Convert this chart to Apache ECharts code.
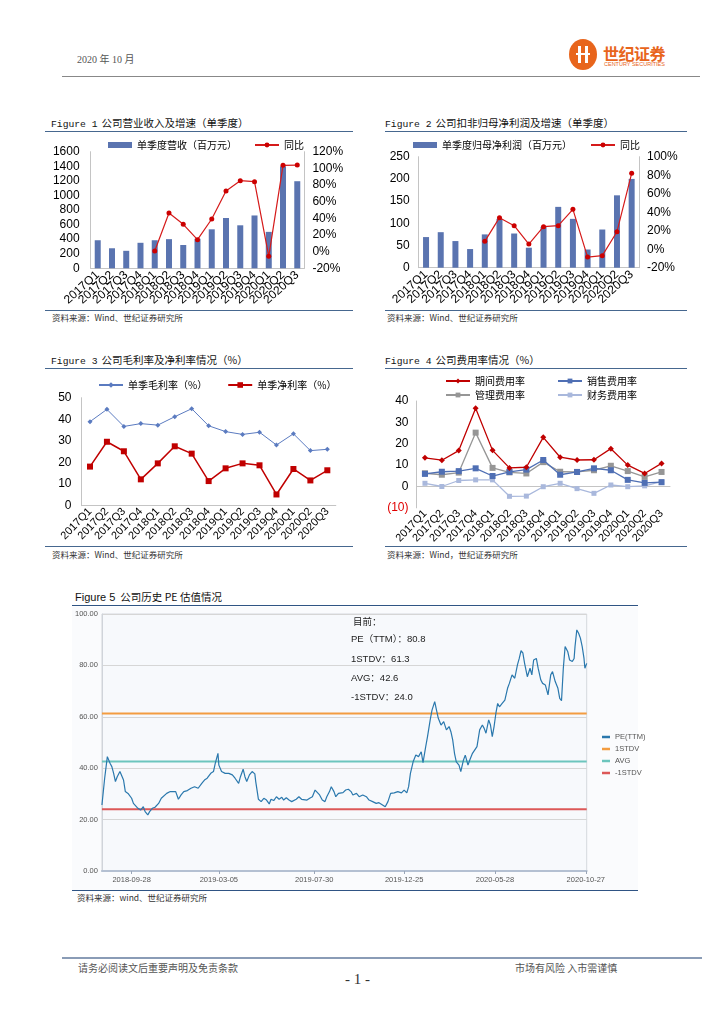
<!DOCTYPE html>
<html><head><meta charset="utf-8">
<script src="https://cdn.jsdelivr.net/npm/echarts@6/dist/echarts.min.js"></script>
<style>
body{margin:0;width:724px;height:1024px;background:#fff;position:relative;font-family:"Noto Sans CJK SC",sans-serif;overflow:hidden}
.hline{position:absolute;height:0;border-top:1.5px solid #46678f}
.ftitle{position:absolute;font-size:10.5px;color:#111;white-space:nowrap;line-height:12px}
.ftitle .fig{font-family:"Liberation Mono","DejaVu Sans Mono",monospace;font-size:9.7px;margin-right:4px}
.src{position:absolute;font-size:8.5px;color:#333;white-space:nowrap;line-height:10px}
.chart{position:absolute}
.t{position:absolute;white-space:nowrap}
</style></head><body>

<!-- header -->
<div class="t" style="left:77px;top:51px;font-size:10px;color:#555;font-family:'Liberation Serif','Noto Sans CJK SC',serif">2020 年 10 月</div>
<div class="t" style="left:569px;top:39px;width:28px;height:31px;border-radius:50%;background:#e8651c"></div>
<div class="t" style="left:578px;top:46px;width:3px;height:17px;background:#fff"></div>
<div class="t" style="left:585px;top:46px;width:3px;height:17px;background:#fff"></div>
<div class="t" style="left:576px;top:53px;width:14px;height:2px;background:#fff"></div>
<div class="t" style="left:603px;top:41px;font-size:16px;font-weight:bold;color:#e8651c;letter-spacing:-0.5px">世纪证券</div>
<div class="t" style="left:604px;top:61px;font-size:5.5px;color:#e8651c;font-family:'Liberation Sans',sans-serif">CENTURY SECURITIES</div>
<div class="t" style="left:62px;top:76px;width:638px;border-top:1px solid #888"></div>

<!-- Figure 1 -->
<div class="ftitle" style="left:51px;top:117px"><span class="fig">Figure 1</span>公司营业收入及增速（单季度）</div>
<div class="hline" style="left:45px;top:131px;width:308px"></div>
<div id="c1" class="chart" style="left:40px;top:132px;width:320px;height:178px"></div>
<div class="hline" style="left:45px;top:310px;width:308px"></div>
<div class="src" style="left:52px;top:312px">资料来源：Wind、世纪证券研究所</div>

<!-- Figure 2 -->
<div class="ftitle" style="left:385px;top:117px"><span class="fig">Figure 2</span>公司扣非归母净利润及增速（单季度）</div>
<div class="hline" style="left:385px;top:131px;width:302px"></div>
<div id="c2" class="chart" style="left:380px;top:132px;width:320px;height:178px"></div>
<div class="hline" style="left:385px;top:310px;width:302px"></div>
<div class="src" style="left:387px;top:312px">资料来源：Wind、世纪证券研究所</div>

<!-- Figure 3 -->
<div class="ftitle" style="left:51px;top:354px"><span class="fig">Figure 3</span>公司毛利率及净利率情况（%）</div>
<div class="hline" style="left:45px;top:368px;width:308px"></div>
<div id="c3" class="chart" style="left:40px;top:369px;width:320px;height:177px"></div>
<div class="hline" style="left:45px;top:546px;width:308px"></div>
<div class="src" style="left:52px;top:549px">资料来源：Wind、世纪证券研究所</div>

<!-- Figure 4 -->
<div class="ftitle" style="left:385px;top:354px"><span class="fig">Figure 4</span>公司费用率情况（%）</div>
<div class="hline" style="left:385px;top:368px;width:302px"></div>
<div id="c4" class="chart" style="left:380px;top:369px;width:320px;height:177px"></div>
<div class="hline" style="left:385px;top:546px;width:302px"></div>
<div class="src" style="left:387px;top:549px">资料来源：Wind，世纪证券研究所</div>

<!-- Figure 5 -->
<div class="ftitle" style="left:75px;top:591px"><span style="font-family:'Liberation Sans',sans-serif;font-size:11px;margin-right:5px">Figure 5</span>公司历史 PE 估值情况</div>
<div class="hline" style="left:72px;top:605px;width:566px;border-top:1.5px solid #2f5484"></div>
<div class="t" style="left:72px;top:607px;width:566px;height:283px;background:#fafbfd"></div>
<div id="c5" class="chart" style="left:72px;top:607px;width:590px;height:283px"></div>
<div class="hline" style="left:72px;top:890px;width:566px;border-top:1.5px solid #2f5484"></div>
<div class="src" style="left:77px;top:892px">资料来源：wind、世纪证券研究所</div>

<!-- footer -->
<div class="t" style="left:62px;top:957px;width:640px;border-top:2px solid #8a9cb6"></div>
<div class="t" style="left:78px;top:960px;font-size:10px;color:#555">请务必阅读文后重要声明及免责条款</div>
<div class="t" style="left:515px;top:960px;font-size:10px;color:#555">市场有风险 入市需谨慎</div>
<div class="t" style="left:345px;top:971px;font-size:15px;color:#333;font-family:'Liberation Serif',serif">- 1 -</div>

<script>
// ---------- data ----------
const quarters = ['2017Q1','2017Q2','2017Q3','2017Q4','2018Q1','2018Q2','2018Q3','2018Q4','2019Q1','2019Q2','2019Q3','2019Q4','2020Q1','2020Q2','2020Q3'];
// Figure 1
const revenue = [385,275,240,350,385,400,320,405,535,690,590,725,500,1400,1195];
const revenueYoY = [null,null,null,null,0.8,46.4,32.8,14.4,39.2,72.8,85.2,84.0,-5.6,103.6,104.0];
// Figure 2
const profit = [69,80,60,42,75,110,77,45,92,137,110,41,86,163,200];
const profitYoY = [null,null,null,null,8.5,34.1,25.4,5.6,24.3,25.4,43.1,-8.5,-7.0,18.9,82.0];
// Figure 3
const grossMargin = [38.9,44.6,36.7,38.0,37.3,41.2,44.9,37.0,34.3,33.0,34.0,28.1,33.3,25.5,26.1];
const netMargin = [18.1,29.6,25.2,12.2,19.6,27.5,24.1,11.4,17.3,19.6,18.7,5.2,17.0,11.7,16.4];
// Figure 4
const periodExp = [13.4,12.3,16.8,36.6,16.9,8.7,9.0,23.0,13.7,12.4,12.5,17.7,10.0,6.1,10.8];
const salesExp = [5.9,6.9,7.2,8.5,4.9,6.8,7.9,12.4,5.5,6.8,8.5,7.6,3.1,1.7,2.0];
const adminExp = [6.2,5.5,6.5,25.2,8.7,6.6,6.1,11.4,6.9,6.8,7.6,9.7,7.2,4.5,6.8];
const finExp = [1.5,0.0,2.8,3.1,3.1,-4.6,-4.5,-0.1,1.5,-1.0,-3.2,0.7,-0.1,0.3,2.3];
// Figure 5 (trading-day index, PE TTM)
const peDays = [0,3,6,9,11,13,15,17,20,22,24,26,29,33,35,37,40,43,46,48,51,53,56,59,63,66,68,72,76,78,82,85,88,91,95,99,103,107,111,114,117,121,124,126,129,130,133,137,141,145,148,152,154,157,159,161,164,167,170,171,173,174,177,180,183,186,188,191,194,197,200,202,205,208,211,213,216,219,222,224,228,231,234,237,239,242,245,248,250,253,255,258,260,263,265,268,271,274,277,279,283,286,290,294,297,301,305,308,312,315,318,321,325,329,333,336,339,341,343,346,349,352,355,357,360,362,365,367,370,372,374,377,380,383,386,388,390,392,394,397,399,402,404,407,409,412,414,417,420,423,425,427,430,432,434,436,438,440,442,445,448,451,453,456,459,462,464,466,468,470,473,476,478,480,483,485,488,490,493,496,499,501,504,507,509,511,513,515,518,520,523,525,526,528,530,532,534,536,537,539];
const peValues = [25.7,36.0,44.5,41.9,40.6,38.0,34.8,36.7,38.7,39.0,35.4,30.9,30.2,28.3,26.3,25.7,24.4,23.7,25.0,23.1,21.8,23.1,24.4,24.8,26.3,28.3,27.6,30.2,30.9,31.5,30.9,27.9,29.6,30.9,31.3,32.2,32.8,32.2,34.1,35.4,36.1,38.0,38.7,41.9,45.8,41.2,38.7,38.0,38.0,37.4,36.1,34.1,36.7,39.6,36.7,34.8,37.4,38.7,37.8,34.8,30.2,27.9,27.0,28.3,27.6,26.1,27.9,27.4,28.9,27.9,28.7,27.6,28.5,27.6,27.0,26.6,27.9,28.9,27.9,28.3,27.6,28.3,28.9,31.5,31.3,29.6,27.6,27.0,28.9,30.9,32.8,30.9,28.9,30.2,30.9,30.5,31.5,31.8,30.9,29.6,30.2,28.9,29.6,28.9,27.6,27.0,26.3,26.6,25.7,25.0,27.0,30.2,30.4,30.9,30.4,31.5,30.4,32.8,38.0,42.5,45.1,44.5,46.4,42.2,48.4,52.3,58.8,62.6,65.9,62.6,59.4,56.8,58.1,54.9,56.2,54.2,51.0,45.8,42.5,41.2,38.7,43.2,45.1,41.2,43.2,45.8,46.4,48.4,54.9,56.8,55.5,53.6,58.8,56.8,52.3,56.2,61.3,65.2,63.9,65.2,66.5,71.1,73.0,76.3,75.0,80.2,82.7,85.7,84.9,80.7,75.6,78.9,76.3,82.1,82.7,78.9,74.3,73.0,72.4,68.5,76.3,77.6,73.7,71.1,67.2,66.3,78.9,87.3,85.3,82.1,81.5,82.7,87.3,93.8,92.5,90.6,87.3,82.7,78.9,80.8];
const peTickDays = [33,130,236,336,437,538];
const peTickLabels = ['2018-09-28','2019-03-05','2019-07-30','2019-12-25','2020-05-28','2020-10-27'];
const statNames = ['PE（TTM）','1STDV','AVG','-1STDV'];
const statValues = [80.8, 61.3, 42.6, 24.0];
const peLegend = ['PE(TTM)','1STDV','AVG','-1STDV'];

// ---------- styles ----------
const LAT = 'Liberation Sans, Arial, sans-serif';
const CJK = 'Noto Sans CJK SC, sans-serif';
const axisGray = '#c4c4c4';
function catAxis(rot, fs, margin){
  return {type:'category', data:quarters,
    axisLine:{lineStyle:{color:axisGray}}, axisTick:{lineStyle:{color:axisGray}},
    axisLabel:{rotate:rot, fontSize:fs, color:'#000', interval:0, margin:margin, fontFamily:LAT}};
}
function valAxis(min,max,interval,pos,margin,fmt){
  return {type:'value', min:min, max:max, interval:interval, position:pos,
    axisLine:{show:true, lineStyle:{color:axisGray}}, axisTick:{show:false}, splitLine:{show:false},
    axisLabel:{fontSize:12, color:'#000', margin:margin, fontFamily:LAT, formatter:fmt || (v => String(v))}};
}
const legendText = {fontSize:10, color:'#000', fontFamily:CJK};

// ---------- Figure 1 ----------
echarts.init(document.getElementById('c1')).setOption({
  animation:false,
  legend:{left:63, top:3, itemWidth:24, itemHeight:6, itemGap:17, textStyle:legendText,
    data:[{name:'单季度营收（百万元）', icon:'rect'}, {name:'同比'}]},
  grid:{left:50.6, right:55.6, top:19.7, bottom:41.7},
  xAxis:catAxis(42,12,5),
  yAxis:[valAxis(0,1600,200,'left',11), valAxis(-20,120,20,'right',8, v => v + '%')],
  series:[
    {name:'单季度营收（百万元）', type:'bar', data:revenue, barWidth:6, itemStyle:{color:'#5a74b0'}},
    {name:'同比', type:'line', yAxisIndex:1, data:revenueYoY, symbol:'circle', symbolSize:5,
      itemStyle:{color:'#cc0000'}, lineStyle:{color:'#d51a1a', width:1.2}}
  ]
});

// ---------- Figure 2 ----------
echarts.init(document.getElementById('c2')).setOption({
  animation:false,
  legend:{left:28, top:3, itemWidth:24, itemHeight:6, itemGap:18, textStyle:legendText,
    data:[{name:'单季度归母净利润（百万元）', icon:'rect'}, {name:'同比'}]},
  grid:{left:38.7, right:61, top:24.7, bottom:42.3},
  xAxis:catAxis(42,12,5),
  yAxis:[valAxis(0,250,50,'left',9), valAxis(-20,100,20,'right',8, v => v + '%')],
  series:[
    {name:'单季度归母净利润（百万元）', type:'bar', data:profit, barWidth:6, itemStyle:{color:'#5a74b0'}},
    {name:'同比', type:'line', yAxisIndex:1, data:profitYoY, symbol:'circle', symbolSize:5,
      itemStyle:{color:'#cc0000'}, lineStyle:{color:'#d51a1a', width:1.2}}
  ]
});

// ---------- Figure 3 ----------
echarts.init(document.getElementById('c3')).setOption({
  animation:false,
  legend:{left:53, top:6, itemWidth:24, itemHeight:7, itemGap:20, textStyle:legendText,
    data:['单季毛利率（%）','单季净利率（%）']},
  grid:{left:41.5, right:24.2, top:28.7, bottom:40.3},
  xAxis:catAxis(46,11,4),
  yAxis:valAxis(0,50,10,'left',10),
  series:[
    {name:'单季毛利率（%）', type:'line', data:grossMargin, symbol:'diamond', symbolSize:5,
      itemStyle:{color:'#5b7bc0'}, lineStyle:{color:'#5b7bc0', width:1}},
    {name:'单季净利率（%）', type:'line', data:netMargin, symbol:'rect', symbolSize:6,
      itemStyle:{color:'#c00000'}, lineStyle:{color:'#c00000', width:1.5}}
  ]
});

// ---------- Figure 4 ----------
const y4 = valAxis(-10,40,10,'left',8, v => v < 0 ? '{neg|(' + Math.abs(v) + ')}' : String(v));
y4.axisLabel.rich = {neg:{color:'#e00000', fontSize:12, fontFamily:LAT}};
echarts.init(document.getElementById('c4')).setOption({
  animation:false,
  legend:[
    {left:60, top:2, itemWidth:24, itemHeight:6, itemGap:32, textStyle:legendText, data:['期间费用率','销售费用率']},
    {left:60, top:16, itemWidth:24, itemHeight:6, itemGap:32, textStyle:legendText, data:['管理费用率','财务费用率']}
  ],
  grid:{left:36.5, right:30, top:32, bottom:26.7},
  xAxis:catAxis(46,11,4),
  yAxis:y4,
  series:[
    {name:'期间费用率', type:'line', data:periodExp, symbol:'diamond', symbolSize:6,
      itemStyle:{color:'#c00000'}, lineStyle:{color:'#c00000', width:1.3}, z:5},
    {name:'销售费用率', type:'line', data:salesExp, symbol:'rect', symbolSize:6,
      itemStyle:{color:'#4f6fb4'}, lineStyle:{color:'#4f6fb4', width:1.3}, z:4},
    {name:'管理费用率', type:'line', data:adminExp, symbol:'rect', symbolSize:6,
      itemStyle:{color:'#969696'}, lineStyle:{color:'#969696', width:1.3}, z:3},
    {name:'财务费用率', type:'line', data:finExp, symbol:'rect', symbolSize:5,
      itemStyle:{color:'#a9b8dc'}, lineStyle:{color:'#a9b8dc', width:1.3}, z:2}
  ]
});

// ---------- Figure 5 ----------
const peData = peDays.map((d,i) => [d, peValues[i]]);
const xFirst = peDays[0], xLast = peDays[peDays.length-1];
const flat = v => [[xFirst, v],[xLast, v]];
const WIND = 'Liberation Sans Narrow, Liberation Sans, sans-serif';
const noteTops = [28, 48, 67, 86];
echarts.init(document.getElementById('c5')).setOption({
  animation:false,
  grid:{left:29.7, right:75.3, top:7, bottom:19, show:true, backgroundColor:'#f7f9fc', borderColor:'#d6d9de', borderWidth:1},
  legend:{orient:'vertical', left:525, top:121, itemWidth:8, itemHeight:2.5, itemGap:4, icon:'rect',
    textStyle:{fontSize:7.5, color:'#555', fontFamily:WIND}, data:peLegend},
  xAxis:{type:'value', min:xFirst, max:xLast,
    axisLine:{show:true, onZero:false, lineStyle:{color:'#b4c0d2', width:2}},
    axisTick:{show:true, customValues:peTickDays, length:3, lineStyle:{color:'#9aa6b8'}},
    splitLine:{show:false},
    axisLabel:{customValues:peTickDays, fontSize:7.5, color:'#555', margin:5, fontFamily:WIND,
      formatter: v => peTickLabels[peTickDays.indexOf(v)] || ''}},
  yAxis:{type:'value', min:0, max:100, interval:20,
    axisLine:{show:true, lineStyle:{color:'#d0d4da'}}, axisTick:{show:false},
    splitLine:{lineStyle:{color:'#d6d6d6', width:1}},
    axisLabel:{fontSize:7.5, color:'#555', margin:4, fontFamily:WIND, formatter: v => v.toFixed(2)}},
  graphic: [{type:'text', left:281, top:10, style:{text:'目前：', fill:'#222', font:'9.5px Noto Sans CJK SC, sans-serif'}}]
    .concat(statNames.map((n,i) => ({type:'text', left:279, top:noteTops[i],
      style:{text:n + '：' + statValues[i].toFixed(1), fill:'#222', font:'9.5px Liberation Sans, Noto Sans CJK SC, sans-serif'}}))),
  series:[
    {name:'PE(TTM)', type:'line', data:peData, showSymbol:false, symbol:'none', z:10,
      itemStyle:{color:'#2a78ad'}, lineStyle:{color:'#2a78ad', width:1.2}},
    {name:'1STDV', type:'line', data:flat(statValues[1]), symbol:'none', itemStyle:{color:'#f39c40'}, lineStyle:{color:'#f39c40', width:2}},
    {name:'AVG', type:'line', data:flat(statValues[2]), symbol:'none', itemStyle:{color:'#6cc5bd'}, lineStyle:{color:'#6cc5bd', width:2}},
    {name:'-1STDV', type:'line', data:flat(statValues[3]), symbol:'none', itemStyle:{color:'#dc5858'}, lineStyle:{color:'#dc5858', width:2}}
  ]
});
</script>
</body></html>
